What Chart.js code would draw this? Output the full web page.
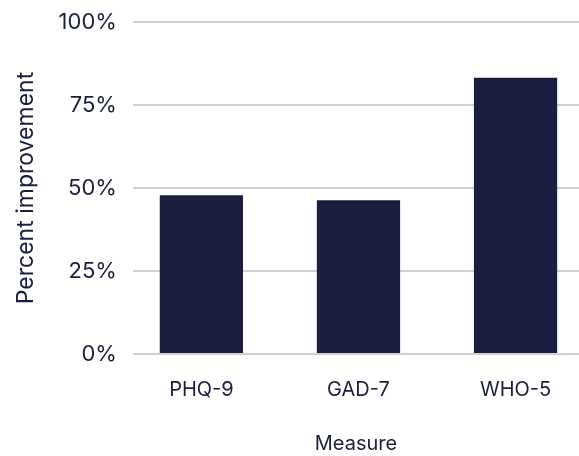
<!DOCTYPE html>
<html>
<head>
<meta charset="utf-8">
<script src="https://cdn.jsdelivr.net/npm/chart.js@4.4.0/dist/chart.umd.min.js"></script>
<style>
html,body{margin:0;padding:0;background:#fff;overflow:hidden;}
#wrap{width:579px;height:456px;position:relative;}
</style>
</head>
<body>
<div id="wrap"><canvas id="c"></canvas></div>
<script>
const categories = ['PHQ-9', 'GAD-7', 'WHO-5'];
const improvement = [47.8, 46.3, 83.2];
const yTicks = [0, 25, 50, 75, 100];

const ink = '#1b1e3f';
const gridColor = '#d0cfd7';
const fontFamily = 'Inter, "Noto Sans", sans-serif';

const points = categories.map((c, i) => ({ x: i + 1, y: improvement[i] }));

new Chart(document.getElementById('c'), {
  type: 'bar',
  data: {
    datasets: [{
      data: points,
      backgroundColor: ink,
      borderWidth: 0,
      categoryPercentage: 0.53,
      barPercentage: 1.0
    }]
  },
  options: {
    responsive: true,
    maintainAspectRatio: false,
    animation: false,
    devicePixelRatio: 1,
    layout: { padding: { top: 9, left: 12, right: 0, bottom: 0 } },
    plugins: { legend: { display: false }, tooltip: { enabled: false } },
    scales: {
      x: {
        type: 'linear',
        offset: false,
        min: 0.564,
        max: 3.404,
        grid: { display: false, drawTicks: false },
        border: { display: false },
        afterBuildTicks: axis => { axis.ticks = categories.map((c, i) => ({ value: i + 1 })); },
        ticks: {
          autoSkip: false,
          maxRotation: 0,
          padding: 26,
          color: ink,
          font: { family: fontFamily, size: 20, lineHeight: 1.0 },
          callback: v => categories[Math.round(v) - 1] || ''
        },
        title: {
          display: true,
          text: 'Measure',
          color: ink,
          font: { family: fontFamily, size: 20 },
          padding: { top: 6, bottom: 0 }
        }
      },
      y: {
        min: 0,
        max: 100,
        afterBuildTicks: axis => { axis.ticks = yTicks.map(v => ({ value: v })); },
        grid: { color: gridColor, lineWidth: 2, drawTicks: false },
        border: { display: false },
        ticks: {
          padding: 16,
          color: ink,
          font: { family: fontFamily, size: 22, lineHeight: 0.55 },
          callback: v => v + '%'
        },
        title: {
          display: true,
          text: 'Percent improvement',
          color: ink,
          font: { family: fontFamily, size: 23 },
          padding: { top: 0, bottom: 3 }
        }
      }
    }
  }
});
</script>
</body>
</html>
